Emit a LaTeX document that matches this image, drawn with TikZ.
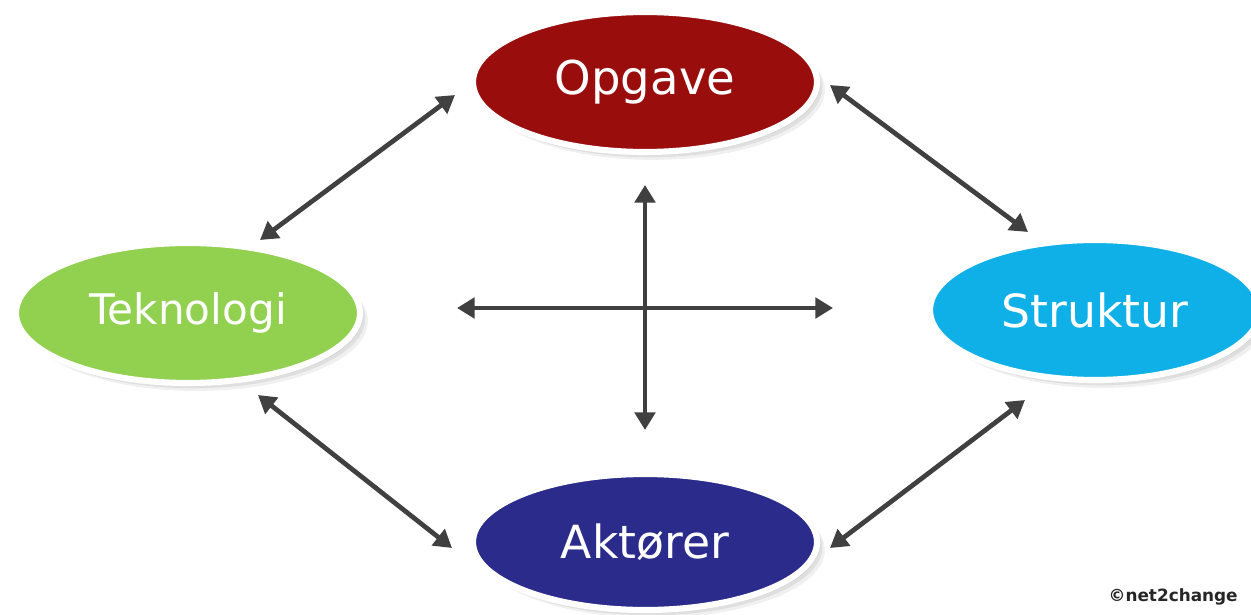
\documentclass[tikz,border=0pt]{standalone}
\usepackage{fontspec}
\setmainfont{DejaVu Sans}
\usetikzlibrary{arrows.meta,shadows,shapes.geometric}
\definecolor{opgc}{HTML}{9A0D0D}
\definecolor{tekc}{HTML}{92D050}
\definecolor{strc}{HTML}{0FB0E8}
\definecolor{aktc}{HTML}{2B2B8C}
\definecolor{arrc}{HTML}{404040}
\begin{document}
\begin{tikzpicture}[x=0.02cm,y=-0.02cm,
  oval/.style={ellipse, draw=white, line width=3.5pt, text=white, inner sep=0pt,
    minimum width=344*0.02cm, minimum height=140*0.02cm,
    drop shadow={opacity=0.07, shadow xshift=1.5pt, shadow yshift=-1.5pt, fill=black},
    drop shadow={opacity=0.07, shadow xshift=3pt, shadow yshift=-3pt, fill=black},
    drop shadow={opacity=0.06, shadow xshift=4.5pt, shadow yshift=-4.5pt, fill=black}},
  link/.style={draw=arrc, line width=2.7pt, {Triangle[length=10pt,width=11.5pt]}-{Triangle[length=10pt,width=11.5pt]}}]
\useasboundingbox (0,0) rectangle (1251,615);
\fill[white] (0,0) rectangle (1251,615);
\node[oval, fill=opgc, font=\fontsize{26.5}{30}\selectfont] (opg) at (645,82) {Opgave};
\node[oval, fill=tekc, font=\fontsize{24}{30}\selectfont] (tek) at (188,313) {Teknologi};
\node[oval, fill=strc, font=\fontsize{26}{30}\selectfont, minimum width=330*0.02cm] (str) at (1095,310) {Struktur};
\node[oval, fill=aktc, font=\fontsize{26}{30}\selectfont, minimum height=136*0.02cm] (akt) at (645,542) {Aktører};
\coordinate (a1) at (455,95);
\coordinate (a2) at (260,240);
\coordinate (b1) at (830,85);
\coordinate (b2) at (1028,232);
\coordinate (c1) at (258,395);
\coordinate (c2) at (452,548);
\coordinate (d1) at (830,548);
\coordinate (d2) at (1025,400);
\coordinate (v1) at (645,185);
\coordinate (v2) at (645,430);
\coordinate (h1) at (457,308);
\coordinate (h2) at (833,308);
\draw[link] (a1) -- (a2);
\draw[link] (b1) -- (b2);
\draw[link] (c1) -- (c2);
\draw[link] (d1) -- (d2);
\draw[link] (v1) -- (v2);
\draw[link] (h1) -- (h2);
\node[font=\bfseries\fontsize{9.6}{11}\selectfont, text=black!85, anchor=east, inner sep=0pt] (copy) at (1238,597) {©net2change};
\end{tikzpicture}
\end{document}
